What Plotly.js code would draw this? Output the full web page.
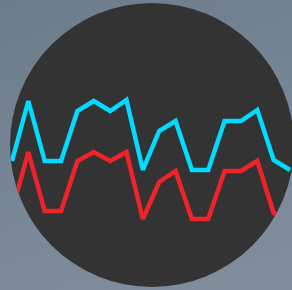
<!DOCTYPE html>
<html>
<head>
<meta charset="utf-8">
<script src="https://cdn.plot.ly/plotly-3.0.1.min.js"></script>
<style>
  html, body { margin: 0; padding: 0; }
  body {
    width: 292px; height: 290px; overflow: hidden;
    background: linear-gradient(160deg, #6c7c8b 0%, #778695 50%, #818f9d 100%);
  }
  #chart {
    width: 292px; height: 290px;
    clip-path: circle(142px at 152px 145px);
  }
</style>
</head>
<body>
<div id="chart"></div>
<script>
const steps = [0,1,2,3,4,5,6,7,8,9,10,11,12,13,14,15,16,17];
const cyanSeries = [60,120,60,60,110,120,110,121,51,90,100,51,51,100,100,111,61,51];
const redSeries  = [10,69,10,10,60,69,60,69,2,39,50,2,2,50,50,60,8,1];

const traces = [
  { x: steps, y: cyanSeries, type: 'scatter', mode: 'lines',
    line: { color: '#00dbff', width: 4.5 }, hoverinfo: 'skip' },
  { x: steps, y: redSeries, type: 'scatter', mode: 'lines',
    line: { color: '#f0232b', width: 4.5 }, hoverinfo: 'skip' }
];

const layout = {
  width: 292, height: 290,
  margin: { l: 0, r: 0, t: 0, b: 0, pad: 0 },
  paper_bgcolor: '#333333',
  plot_bgcolor: '#333333',
  showlegend: false,
  xaxis: { range: [-0.734, 17.122], visible: false, fixedrange: true },
  yaxis: { range: [-69, 221], visible: false, fixedrange: true }
};

Plotly.newPlot('chart', traces, layout, { staticPlot: true, displayModeBar: false });
</script>
</body>
</html>
